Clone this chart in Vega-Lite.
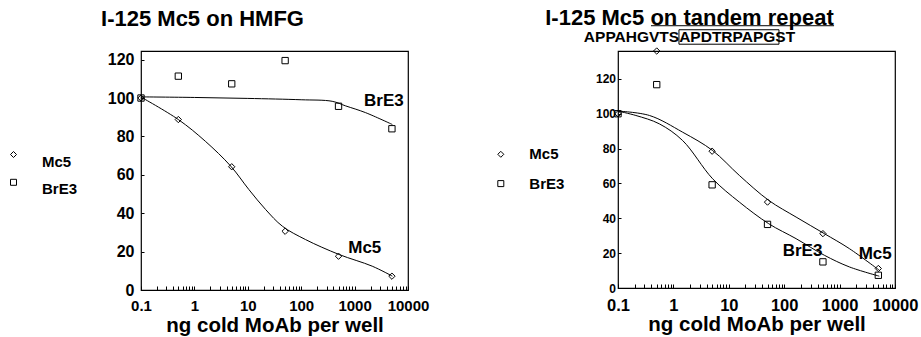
{
  "$schema": "https://vega.github.io/schema/vega-lite/v6.json",
  "background": "white",
  "padding": {"left": 5, "top": 5, "right": 0, "bottom": 0},
  "bounds": "flush",
  "spacing": 210,
  "config": {
    "font": "Liberation Sans",
    "view": {"stroke": "black", "strokeWidth": 1.2},
    "axis": {
      "domain": false,
      "grid": false,
      "zindex": 1,
      "tickColor": "black",
      "tickWidth": 1,
      "labelColor": "black",
      "labelFontWeight": "bold",
      "titleColor": "black",
      "titleFontWeight": "bold",
      "labelOverlap": false,
      "labelBound": false,
      "labelFlush": false
    },
    "legend": {
      "title": null,
      "padding": 0,
      "labelColor": "black",
      "labelFontWeight": "bold",
      "labelFontSize": 15,
      "symbolStrokeColor": "black",
      "symbolStrokeWidth": 1,
      "symbolSize": 36
    },
    "title": {"color": "black", "fontWeight": "bold", "fontSize": 22, "subtitleColor": "black", "subtitleFontWeight": "bold", "subtitleFontSize": 15.5, "subtitleFont": "Liberation Sans"}
  },
  "datasets": {
    "hmfgPoints": [
      {"dose": 0.1, "pct": 100, "series": "Mc5"},
      {"dose": 0.5, "pct": 88.8, "series": "Mc5"},
      {"dose": 5, "pct": 64.2, "series": "Mc5"},
      {"dose": 50, "pct": 30.6, "series": "Mc5"},
      {"dose": 500, "pct": 17.6, "series": "Mc5"},
      {"dose": 5000, "pct": 7.2, "series": "Mc5"},
      {"dose": 0.1, "pct": 100, "series": "BrE3"},
      {"dose": 0.5, "pct": 111.4, "series": "BrE3"},
      {"dose": 5, "pct": 107.4, "series": "BrE3"},
      {"dose": 50, "pct": 119.5, "series": "BrE3"},
      {"dose": 500, "pct": 95.7, "series": "BrE3"},
      {"dose": 5000, "pct": 84, "series": "BrE3"}
    ],
    "hmfgCurves": [
      {"dose": 0.1, "pct": 100.5, "series": "Mc5"},
      {"dose": 0.5, "pct": 88.8, "series": "Mc5"},
      {"dose": 1.6, "pct": 77.5, "series": "Mc5"},
      {"dose": 4.8, "pct": 64.5, "series": "Mc5"},
      {"dose": 10.5, "pct": 52.3, "series": "Mc5"},
      {"dose": 21.6, "pct": 41.9, "series": "Mc5"},
      {"dose": 44.6, "pct": 33.2, "series": "Mc5"},
      {"dose": 120, "pct": 26.3, "series": "Mc5"},
      {"dose": 512, "pct": 18.5, "series": "Mc5"},
      {"dose": 2140, "pct": 12.4, "series": "Mc5"},
      {"dose": 5100, "pct": 7.2, "series": "Mc5"},
      {"dose": 0.1, "pct": 100.6, "series": "BrE3"},
      {"dose": 1, "pct": 100.3, "series": "BrE3"},
      {"dose": 10, "pct": 99.8, "series": "BrE3"},
      {"dose": 100, "pct": 99.1, "series": "BrE3"},
      {"dose": 380, "pct": 98.3, "series": "BrE3"},
      {"dose": 680, "pct": 95.9, "series": "BrE3"},
      {"dose": 1600, "pct": 92.4, "series": "BrE3"},
      {"dose": 5100, "pct": 86.2, "series": "BrE3"}
    ],
    "hmfgLabels": [
      {"dose": 1500, "pct": 98.7, "label": "BrE3"},
      {"dose": 760, "pct": 21.7, "label": "Mc5"}
    ],
    "repeatPoints": [
      {"dose": 0.1, "pct": 100, "series": "Mc5"},
      {"dose": 0.5, "pct": 136, "series": "Mc5"},
      {"dose": 5, "pct": 78.5, "series": "Mc5"},
      {"dose": 50, "pct": 49.3, "series": "Mc5"},
      {"dose": 500, "pct": 31.2, "series": "Mc5"},
      {"dose": 5000, "pct": 11.2, "series": "Mc5"},
      {"dose": 0.1, "pct": 100, "series": "BrE3"},
      {"dose": 0.5, "pct": 116.7, "series": "BrE3"},
      {"dose": 5, "pct": 59.2, "series": "BrE3"},
      {"dose": 50, "pct": 36.5, "series": "BrE3"},
      {"dose": 500, "pct": 15, "series": "BrE3"},
      {"dose": 5000, "pct": 7.3, "series": "BrE3"}
    ],
    "repeatCurves": [
      {"dose": 0.1, "pct": 101.5, "series": "Mc5"},
      {"dose": 0.37, "pct": 99, "series": "Mc5"},
      {"dose": 1.47, "pct": 89.4, "series": "Mc5"},
      {"dose": 5.1, "pct": 78.9, "series": "Mc5"},
      {"dose": 15.5, "pct": 64.6, "series": "Mc5"},
      {"dose": 52.5, "pct": 50.3, "series": "Mc5"},
      {"dose": 164, "pct": 40.7, "series": "Mc5"},
      {"dose": 530, "pct": 31.2, "series": "Mc5"},
      {"dose": 1500, "pct": 22.6, "series": "Mc5"},
      {"dose": 5200, "pct": 10.2, "series": "Mc5"},
      {"dose": 0.1, "pct": 101.5, "series": "BrE3"},
      {"dose": 0.21, "pct": 99, "series": "BrE3"},
      {"dose": 0.557, "pct": 94.2, "series": "BrE3"},
      {"dose": 1.47, "pct": 84.6, "series": "BrE3"},
      {"dose": 5.1, "pct": 62.7, "series": "BrE3"},
      {"dose": 15.5, "pct": 49.3, "series": "BrE3"},
      {"dose": 52.5, "pct": 36.9, "series": "BrE3"},
      {"dose": 164, "pct": 28.3, "series": "BrE3"},
      {"dose": 530, "pct": 18.8, "series": "BrE3"},
      {"dose": 1500, "pct": 12.1, "series": "BrE3"},
      {"dose": 5200, "pct": 6.8, "series": "BrE3"}
    ],
    "repeatLabels": [
      {"dose": 94, "pct": 21.2, "label": "BrE3"},
      {"dose": 2213, "pct": 19.6, "label": "Mc5"}
    ],
    "repeatBox": [
      {"dose": 1.26, "dose2": 80.5, "pct": 148.2, "pct2": 139.9}
    ],
    "repeatUnderline": [
      {"dose": 0.394, "dose2": 794, "pct": 150.5}
    ]
  },
  "resolve": {"scale": {"shape": "independent"}, "legend": {"shape": "independent"}},
  "hconcat": [
    {
      "width": 267,
      "height": 239,
      "title": {"text": "I-125 Mc5 on HMFG", "frame": "group", "anchor": "middle", "dx": -72, "offset": 20.5},
      "encoding": {
        "x": {
          "field": "dose", "type": "quantitative",
          "scale": {"type": "log", "domain": [0.1, 10000], "nice": false},
          "axis": {
            "values": [0.1, 0.2, 0.3, 0.4, 0.5, 0.6, 0.7, 0.8, 0.9, 1, 2, 3, 4, 5, 6, 7, 8, 9, 10, 20, 30, 40, 50, 60, 70, 80, 90, 100, 200, 300, 400, 500, 600, 700, 800, 900, 1000, 2000, 3000, 4000, 5000, 6000, 7000, 8000, 9000, 10000],
            "format": "~g",
            "labelExpr": "indexof(['0.1','1','10','100','1000','10000'], datum.label) >= 0 ? datum.label : ''",
            "offset": -4, "tickSize": 4, "labelPadding": 8, "labelFontSize": 15,
            "title": "ng cold MoAb per well", "titleFontSize": 20.5, "titlePadding": 2
          }
        },
        "y": {
          "field": "pct", "type": "quantitative",
          "scale": {"domain": [0, 124.5], "nice": false, "zero": false},
          "axis": {"values": [0, 20, 40, 60, 80, 100, 120], "offset": -3, "tickSize": 3, "labelPadding": 7, "labelFontSize": 16, "title": null}
        }
      },
      "layer": [
        {
          "data": {"name": "hmfgCurves"},
          "mark": {"type": "line", "color": "black", "strokeWidth": 1, "interpolate": "catmull-rom"},
          "encoding": {"detail": {"field": "series"}}
        },
        {
          "data": {"name": "hmfgPoints"},
          "mark": {"type": "point", "filled": false, "color": "black", "strokeWidth": 1, "size": 40, "opacity": 1},
          "encoding": {
            "shape": {
              "field": "series", "type": "nominal",
              "scale": {"domain": ["Mc5", "BrE3"], "range": ["diamond", "square"]},
              "legend": {"orient": "none", "legendX": -135, "legendY": 96, "labelOffset": 21, "rowPadding": 4.8, "labelBaseline": "top"}
            }
          }
        },
        {
          "data": {"name": "hmfgLabels"},
          "mark": {"type": "text", "align": "left", "baseline": "middle", "fontSize": 17, "fontWeight": "bold", "color": "black"},
          "encoding": {"text": {"field": "label"}}
        }
      ]
    },
    {
      "width": 277,
      "height": 237,
      "title": {"text": "I-125 Mc5 on tandem repeat", "subtitle": "APPAHGVTSAPDTRPAPGST", "subtitlePadding": 0, "frame": "group", "anchor": "middle", "dx": -67, "offset": -20.8},
      "encoding": {
        "x": {
          "field": "dose", "type": "quantitative",
          "scale": {"type": "log", "domain": [0.1, 10000], "nice": false},
          "axis": {
            "values": [0.1, 0.2, 0.3, 0.4, 0.5, 0.6, 0.7, 0.8, 0.9, 1, 2, 3, 4, 5, 6, 7, 8, 9, 10, 20, 30, 40, 50, 60, 70, 80, 90, 100, 200, 300, 400, 500, 600, 700, 800, 900, 1000, 2000, 3000, 4000, 5000, 6000, 7000, 8000, 9000, 10000],
            "format": "~g",
            "labelExpr": "indexof(['0.1','1','10','100','1000','10000'], datum.label) >= 0 ? datum.label : ''",
            "offset": -4, "tickSize": 4, "labelPadding": 9, "labelFontSize": 16.5,
            "title": "ng cold MoAb per well", "titleFontSize": 20.5, "titlePadding": 1
          }
        },
        "y": {
          "field": "pct", "type": "quantitative",
          "scale": {"domain": [0, 136], "nice": false, "zero": false},
          "axis": {"values": [0, 20, 40, 60, 80, 100, 120], "offset": -3, "tickSize": 3, "labelPadding": 2.5, "labelFontSize": 12, "title": null}
        }
      },
      "layer": [
        {
          "data": {"name": "repeatCurves"},
          "mark": {"type": "line", "color": "black", "strokeWidth": 1, "interpolate": "catmull-rom"},
          "encoding": {"detail": {"field": "series"}}
        },
        {
          "data": {"name": "repeatPoints"},
          "mark": {"type": "point", "filled": false, "color": "black", "strokeWidth": 1, "size": 40, "opacity": 1},
          "encoding": {
            "shape": {
              "field": "series", "type": "nominal",
              "scale": {"domain": ["Mc5", "BrE3"], "range": ["diamond", "square"]},
              "legend": {"orient": "none", "legendX": -124.7, "legendY": 95.8, "labelOffset": 21, "rowPadding": 13.3, "labelBaseline": "middle"}
            }
          }
        },
        {
          "data": {"name": "repeatLabels"},
          "mark": {"type": "text", "align": "left", "baseline": "middle", "fontSize": 17, "fontWeight": "bold", "color": "black"},
          "encoding": {"text": {"field": "label"}}
        },
        {
          "data": {"name": "repeatBox"},
          "mark": {"type": "rect", "fillOpacity": 0, "stroke": "black", "strokeWidth": 1},
          "encoding": {"x2": {"field": "dose2"}, "y2": {"field": "pct2"}}
        },
        {
          "data": {"name": "repeatUnderline"},
          "mark": {"type": "rule", "color": "black", "strokeWidth": 1},
          "encoding": {"x2": {"field": "dose2"}}
        }
      ]
    }
  ]
}
